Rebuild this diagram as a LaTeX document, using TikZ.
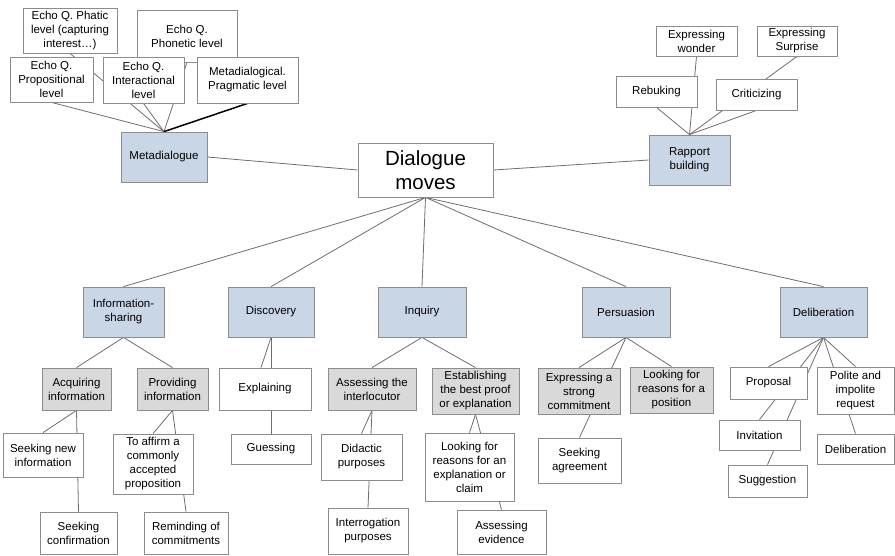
\documentclass[tikz,border=0pt]{standalone}
\usepackage{fontspec}
\setmainfont{Liberation Sans}
\pgfdeclarelayer{paper}
\pgfdeclarelayer{bg}
\pgfsetlayers{paper,bg,main}
\definecolor{bordc}{HTML}{8C8C8C}
\definecolor{linec}{HTML}{6E6E6E}
\definecolor{bluec}{HTML}{C9D6E6}
\definecolor{grayc}{HTML}{D9D9D9}
\tikzset{
  nbox/.style={draw=bordc, fill=white, line width=0.8pt, inner sep=0pt, align=center,
    font=\fontsize{11.5}{14}\selectfont, text=black},
  nblue/.style={nbox, fill=bluec},
  ngray/.style={nbox, fill=grayc},
  conn/.style={draw=linec, line width=0.8pt},
  darkconn/.style={draw=black, line width=1.5pt},
}
\newcommand{\bx}[6]{\node[#1, minimum width=#4pt, minimum height=#5pt] (#2) at (#3) {#6};}
\begin{document}
\begin{tikzpicture}[x=1pt, y=-1pt]
\useasboundingbox (0,0) rectangle (895,555);
\begin{pgfonlayer}{paper}
\fill[white] (0,0) rectangle (895,555);
\end{pgfonlayer}

% top-left cluster
\bx{nbox}{phatic}{70,30.5}{94}{45}{Echo Q. Phatic\\level (capturing\\interest\ldots)}
\bx{nbox}{phonetic}{187,36}{100}{52}{Echo Q.\\Phonetic level}
\bx{nbox}{propos}{51.5,79.5}{83}{45}{Echo Q.\\Propositional\\level}
\bx{nbox}{interact}{143.5,80}{81}{46}{Echo Q.\\Interactional\\level}
\bx{nbox}{pragm}{247.5,80}{101}{46}{Metadialogical.\\Pragmatic level}
\bx{nblue}{meta}{164,157}{86}{50}{Metadialogue}

% centre
\node[nbox, minimum width=135pt, minimum height=54pt, font=\fontsize{20.5}{24}\selectfont] (dm) at (425.5,170) {Dialogue\\moves};

% top-right cluster
\bx{nblue}{rapport}{689.5,160}{81}{50}{Rapport\\building}
\bx{nbox}{wonder}{696.5,41}{81}{30}{Expressing\\wonder}
\bx{nbox}{surprise}{797,41}{80}{30}{Expressing\\Surprise}
\bx{nbox}{rebuking}{656.5,91.5}{81}{31}{Rebuking}
\bx{nbox}{critic}{756.5,94.5}{81}{31}{Criticizing}

% level 2
\bx{nblue}{infoshare}{123.5,312}{81}{50}{Information-\\sharing}
\bx{nblue}{discovery}{271,312}{86}{50}{Discovery}
\bx{nblue}{inquiry}{422,312}{88}{50}{Inquiry}
\bx{nblue}{persuasion}{626,312}{88}{50}{Persuasion}
\bx{nblue}{deliberation}{823.5,312}{87}{50}{Deliberation}

% information-sharing subtree
\bx{ngray}{acquiring}{76.5,389}{69}{42}{Acquiring\\information}
\bx{ngray}{providing}{172.5,389}{71}{42}{Providing\\information}
\bx{nbox}{seeknew}{43,455}{80}{44}{Seeking new\\information}
\bx{nbox}{affirm}{153,464}{80}{60}{To affirm a\\commonly\\accepted\\proposition}
\bx{nbox}{seekconf}{78.5,533}{77}{42}{Seeking\\confirmation}
\bx{nbox}{reminding}{186,533}{84}{42}{Reminding of\\commitments}

% discovery subtree
\bx{nbox}{explaining}{265,389}{92}{42}{Explaining}
\bx{nbox}{guessing}{271,449}{80}{30}{Guessing}

% inquiry subtree
\bx{ngray}{assessing}{372,389}{88}{42}{Assessing the\\interlocutor}
\bx{ngray}{establishing}{475.5,391}{87}{46}{Establishing\\the best proof\\or explanation}
\bx{nbox}{didactic}{361.5,457}{81}{46}{Didactic\\purposes}
\bx{nbox}{lookexpl}{469.5,467}{89}{68}{Looking for\\reasons for an\\explanation or\\claim}
\bx{nbox}{interrog}{368,531}{80}{46}{Interrogation\\purposes}
\bx{nbox}{evidence}{501.5,532}{89}{44}{Assessing\\evidence}

% persuasion subtree
\bx{ngray}{strong}{579,391}{82}{46}{Expressing a\\strong\\commitment}
\bx{ngray}{lookpos}{671.5,390}{83}{46}{Looking for\\reasons for a\\position}
\bx{nbox}{seekagree}{579.5,460.5}{83}{45}{Seeking\\agreement}

% deliberation subtree
\bx{nbox}{proposal}{768.5,383}{77}{32}{Proposal}
\bx{nbox}{polite}{855.5,390.5}{77}{47}{Polite and\\impolite\\request}
\bx{nbox}{invitation}{759.5,435}{81}{30}{Invitation}
\bx{nbox}{delibleaf}{855.5,449}{77}{30}{Deliberation}
\bx{nbox}{suggestion}{767.5,481}{79}{32}{Suggestion}

\begin{pgfonlayer}{bg}
% top-left
\draw[conn] (phatic.south) -- (meta.north);
\draw[conn] (phonetic.south) -- (meta.north);
\draw[conn] (propos.south) -- (meta.north);
\draw[conn] (interact.south) -- (meta.north);
\draw[darkconn] (pragm.south) -- (meta.north);
% centre links
\draw[conn] (meta.east) -- (dm.west);
\draw[conn] (dm.east) -- (rapport.west);
% top-right
\foreach \c in {wonder,surprise,rebuking,critic} \draw[conn] (\c.south) -- (rapport.north);
% level 2
\foreach \c in {infoshare,discovery,inquiry,persuasion,deliberation} \draw[conn] (dm.south) -- (\c.north);
% subtrees
\foreach \c in {acquiring,providing} \draw[conn] (infoshare.south) -- (\c.north);
\foreach \c in {seeknew,seekconf} \draw[conn] (acquiring.south) -- (\c.north);
\foreach \c in {affirm,reminding} \draw[conn] (providing.south) -- (\c.north);
\draw[conn] (discovery.south) -- ([xshift=-4pt]explaining.north);
\draw[conn] (discovery.south) -- (guessing.north);
\foreach \c in {assessing,establishing} \draw[conn] (inquiry.south) -- (\c.north);
\foreach \c in {didactic,interrog} \draw[conn] (assessing.south) -- (\c.north);
\foreach \c in {lookexpl,evidence} \draw[conn] (establishing.south) -- (\c.north);
\foreach \c in {strong,seekagree,lookpos} \draw[conn] (persuasion.south) -- (\c.north);
\foreach \c in {proposal,invitation,suggestion,polite,delibleaf} \draw[conn] (deliberation.south) -- (\c.north);
\end{pgfonlayer}
\end{tikzpicture}
\end{document}
